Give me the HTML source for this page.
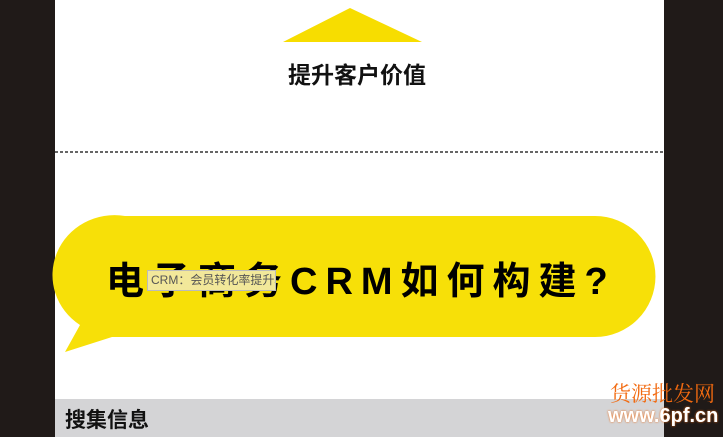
<!DOCTYPE html>
<html><head><meta charset="utf-8"><style>
body{margin:0;width:723px;height:437px;overflow:hidden;background:#fff;position:relative;font-family:"Liberation Sans","Noto Sans CJK SC",sans-serif}
.a{position:absolute}
</style></head><body>
<div class="a" style="left:0;top:0;width:55px;height:437px;background:#201a18"></div>
<div class="a" style="left:664px;top:0;width:59px;height:437px;background:#201a18"></div>
<svg class="a" style="left:0;top:0" width="723" height="437">
<polygon points="350,8 283,42 422,42" fill="#f7dd00"/>
<line x1="55" y1="152" x2="664" y2="152" stroke="#333" stroke-width="1.5" stroke-dasharray="3,2"/>
<path d="M125,216 H595 A60,60 0 0 1 595,337 H112 L65,352 L80,325 A62,60 0 0 1 125,216 Z" fill="#f7e008"/>
</svg>
<div class="a" style="left:240px;top:56px;width:234px;text-align:center;font-size:23px;font-weight:bold;color:#111">提升客户价值</div>
<div class="a" style="left:106px;top:250px;font-size:38px;font-weight:bold;color:#000;white-space:nowrap;letter-spacing:8px">电子商务CRM如何构建?</div>
<div class="a" style="left:147px;top:270px;width:124px;height:19px;background:#f2e89a;border:1px solid #bbb;font-size:12px;color:#555;line-height:19px;padding-left:3px;white-space:nowrap;overflow:hidden">CRM：会员转化率提升攻略</div>
<div class="a" style="left:55px;top:399px;width:609px;height:38px;background:#d4d4d6"></div>
<div class="a" style="left:65px;top:404px;font-size:21px;font-weight:bold;color:#111">搜集信息</div>
<div class="a" style="left:610px;top:378px;font-size:21px;color:#f26a10;font-family:'Noto Serif CJK SC',serif;white-space:nowrap">货源批发网</div>
<div class="a" style="left:608px;top:405px;font-size:20px;color:#fff;font-weight:bold;white-space:nowrap;text-shadow:0 0 2px #f26a10">www.6pf.cn</div>
</body></html>
